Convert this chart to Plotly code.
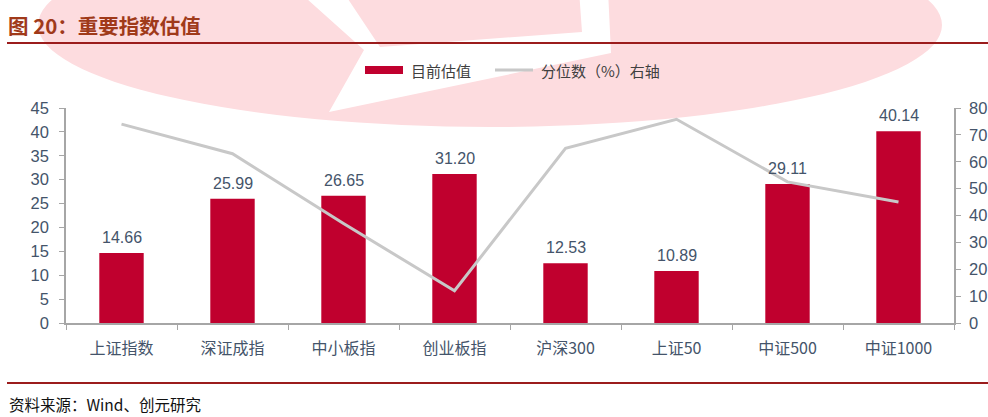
import plotly.graph_objects as go

categories = ["上证指数", "深证成指", "中小板指", "创业板指", "沪深300", "上证50", "中证500", "中证1000"]
valuation = [14.66, 25.99, 26.65, 31.20, 12.53, 10.89, 29.11, 40.14]
percentile = [74, 63, 37, 12, 65, 75.8, 52.5, 45]
left_ticks = list(range(0, 50, 5))
right_ticks = list(range(0, 90, 10))

BAR = "#C0002E"
LINE = "#C8C8C8"
TXT = "#44546A"
AX = "#A6A6A6"
FONT = "Noto Sans CJK SC, Noto Sans, sans-serif"
NUM = "Liberation Sans, Arial, sans-serif"

# plot area in reference pixels: x 66..954, y 108..323
def px(X):
    return (X - 66) / 888

def py(Y):
    return (323 - Y) / 215

fig = go.Figure()
fig.add_trace(go.Bar(
    x=categories, y=valuation, name="目前估值", marker_color=BAR,
    marker_line_width=0, yaxis="y", showlegend=False,
))
fig.add_trace(go.Scatter(
    x=categories, y=percentile, name="分位数（%）右轴", mode="lines",
    line=dict(color=LINE, width=3), yaxis="y2", showlegend=False,
))

for c, v in zip(categories, valuation):
    fig.add_annotation(x=c, y=v, xref="x", yref="y", text=f"{v:.2f}", showarrow=False,
                       yanchor="bottom", yshift=5, font=dict(size=16, color=TXT, family=NUM))

# watermark-like pink logo
fig.add_shape(type="circle", xref="paper", yref="paper",
              x0=px(490 - 452), x1=px(490 + 452),
              y0=py(127), y1=py(-77),
              fillcolor="#FDDCDF", line_width=0, layer="below")
bolt = [(297, -10), (364, 50), (329, 112), (611, 53), (608, -10), (579, -10), (582, 32), (380, 47), (342, -10)]
path = "M " + " L ".join(f"{px(a)} {py(b)}" for a, b in bolt) + " Z"
fig.add_shape(type="path", xref="paper", yref="paper", path=path,
              fillcolor="white", line_width=0, layer="below")

# title rule and footer rule
for Y in (43, 383):
    fig.add_shape(type="line", xref="paper", yref="paper",
                  x0=px(7), x1=px(988), y0=py(Y), y1=py(Y),
                  line=dict(color="#9B1C1C", width=2))

# custom legend
fig.add_shape(type="rect", xref="paper", yref="paper",
              x0=px(365), x1=px(403), y0=py(74), y1=py(66),
              fillcolor=BAR, line_width=0)
fig.add_shape(type="line", xref="paper", yref="paper",
              x0=px(495), x1=px(533), y0=py(70), y1=py(70),
              line=dict(color=LINE, width=3))
fig.add_annotation(text="目前估值", xref="paper", yref="paper", x=px(409), y=py(70),
                   xanchor="left", yanchor="middle", showarrow=False,
                   font=dict(size=15, color="#404040", family=FONT))
fig.add_annotation(text="分位数（%）右轴", xref="paper", yref="paper", x=px(539), y=py(70),
                   xanchor="left", yanchor="middle", showarrow=False,
                   font=dict(size=15, color="#404040", family=FONT))

fig.add_annotation(text="<b>图 20：重要指数估值</b>", xref="paper", yref="paper",
                   x=px(6), y=py(25), xanchor="left", yanchor="middle",
                   showarrow=False, font=dict(size=20.5, color="#A03A1A", family=FONT))
fig.add_annotation(text="资料来源：Wind、创元研究", xref="paper", yref="paper",
                   x=px(7), y=py(404), xanchor="left", yanchor="middle",
                   showarrow=False, font=dict(size=15.5, color="#111111", family=FONT))

fig.update_layout(
    width=988, height=417,
    margin=dict(l=66, r=34, t=108, b=94, autoexpand=False),
    paper_bgcolor="white", plot_bgcolor="rgba(0,0,0,0)",
    bargap=0.6,
    showlegend=False,
    font=dict(family=FONT, color=TXT),
    xaxis=dict(showline=True, linecolor=AX, linewidth=1.5, ticks="outside", tickson="boundaries",
               ticklen=5, tickcolor=AX, ticklabelstandoff=10, automargin=False,
               tickfont=dict(size=16, color=TXT, family=FONT), showgrid=False),
    yaxis=dict(range=[0, 45], tickvals=left_ticks, showline=True, linecolor=AX, linewidth=1.5,
               ticks="outside", ticklen=5, tickcolor=AX, showgrid=False, zeroline=False,
               automargin=False,
               ticklabelstandoff=7, tickfont=dict(size=16.5, color=TXT, family=NUM)),
    yaxis2=dict(range=[0, 80], tickvals=right_ticks, overlaying="y", side="right",
                showline=True, linecolor=AX, linewidth=1.5, ticks="outside", ticklen=5,
                tickcolor=AX, showgrid=False, zeroline=False, ticklabelstandoff=5,
                automargin=False,
                tickfont=dict(size=16.5, color=TXT, family=NUM)),
)

fig.write_html("out.html", config={"displayModeBar": False},
               post_script="document.body.style.margin='0';document.body.style.overflow='hidden';")
